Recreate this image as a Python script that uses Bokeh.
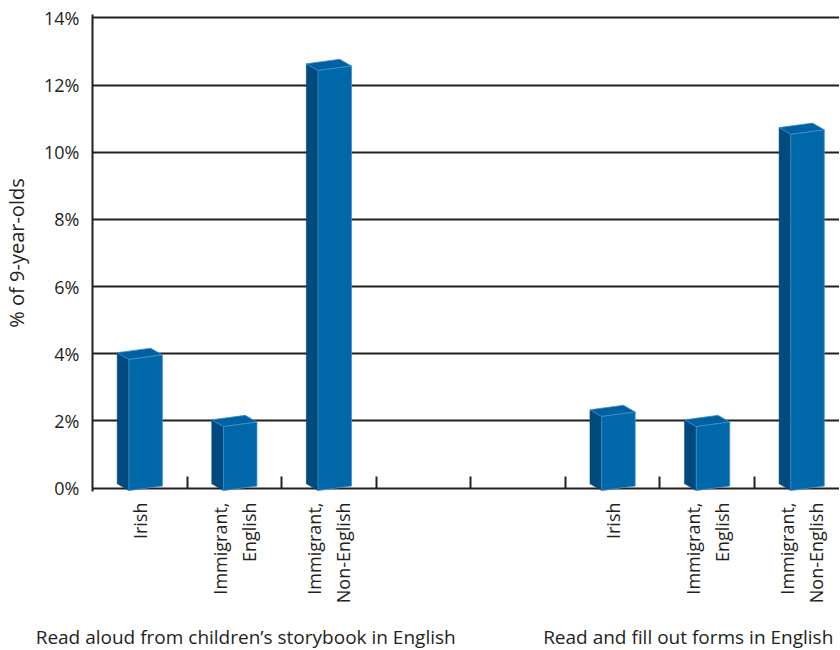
import math
from bokeh.plotting import figure
from bokeh.models import FixedTicker, Range1d, LinearAxis
from bokeh.embed import file_html
from bokeh.resources import INLINE

# ---- data ----
categories = ["Irish", "Immigrant,\nEnglish", "Immigrant,\nNon-English"]
group_names = ["Read aloud from children\u2019s storybook in English",
               "Read and fill out forms in English"]
storybook = [3.9, 1.9, 12.5]
forms = [2.2, 1.9, 10.6]
y_ticks = [0, 2, 4, 6, 8, 10, 12, 14]
y_tick_labels = ["0%", "2%", "4%", "6%", "8%", "10%", "12%", "14%"]
y_title = "% of 9-year-olds"

INK = "#231f20"
FRONT = "#0067a9"
SIDE = "#004a7d"
TOP = "#0061a2"
EDGE = "#3f8fcb"
FONT = "Open Sans"

p = figure(frame_width=747, frame_height=477, x_range=Range1d(0, 7.90), y_range=Range1d(-0.1, 14.1),
           output_backend="svg", toolbar_location=None,
           min_border_left=88, min_border_right=0, min_border_top=14, min_border_bottom=10)
p.outline_line_color = None
p.background_fill_color = "white"
p.xgrid.visible = False
p.ygrid.ticker = FixedTicker(ticks=y_ticks)
p.ygrid.grid_line_color = INK
p.ygrid.grid_line_width = 2

# ---- bars (3D look) ----
slot_centers = [0.5, 1.5, 2.5, 5.5, 6.5, 7.5]
values = storybook + forms
fw, dx, dy, sl = 0.354, 0.124, 0.2, 0.067
fx, fy, sx, sy, tx, ty = [], [], [], [], [], []
for c, v in zip(slot_centers, values):
    l = c - 0.115
    r = l + fw
    tl, tr = v - sl, v + sl
    bl, br = -0.005 - sl, -0.005 + sl
    fx.append([l, r, r, l]); fy.append([tl, tr, br, bl])
    sx.append([l, l - dx, l - dx, l]); sy.append([tl, tl + dy, bl + dy, bl])
    tx.append([l, r, r - dx, l - dx]); ty.append([tl, tr, tr + dy, tl + dy])
p.patches(sx, sy, fill_color=SIDE, line_color=SIDE, line_width=0.5)
p.patches(tx, ty, fill_color=TOP, line_color=EDGE, line_width=0.8)
p.patches(fx, fy, fill_color=FRONT, line_color=EDGE, line_width=0.8)

# ---- y axis ----
ya = p.yaxis[0]
ya.ticker = FixedTicker(ticks=y_ticks)
ya.major_label_overrides = {t: s for t, s in zip(y_ticks, y_tick_labels)}
ya.major_tick_in = 0
ya.major_tick_out = 0
ya.minor_tick_in = 0
ya.minor_tick_out = 0
ya.axis_line_color = INK
ya.axis_line_width = 2
ya.major_label_text_font = FONT
ya.major_label_text_font_size = "18px"
ya.major_label_text_color = INK
ya.major_label_standoff = 13
ya.axis_label = y_title
ya.axis_label_text_font = FONT
ya.axis_label_text_font_size = "20px"
ya.axis_label_text_font_style = "normal"
ya.axis_label_text_color = INK
ya.axis_label_standoff = 11

# ---- x axis (categories) ----
xa = p.xaxis[0]
xa.ticker = FixedTicker(ticks=slot_centers, minor_ticks=[1, 2, 3, 4, 5, 6, 7])
xa.major_label_overrides = {t: s for t, s in zip(slot_centers, categories + categories)}
xa.major_tick_in = 0
xa.major_tick_out = 0
xa.minor_tick_in = 15
xa.minor_tick_out = -3
xa.minor_tick_line_color = INK
xa.minor_tick_line_width = 2
xa.axis_line_color = None
xa.major_label_orientation = math.pi / 2
xa.major_label_text_font = FONT
xa.major_label_text_font_size = "18px"
xa.major_label_text_color = INK
xa.major_label_standoff = 11

# ---- x axis (group names) ----
group_x = [1.62, 6.30]
ga = LinearAxis(ticker=FixedTicker(ticks=group_x, minor_ticks=[]))
ga.major_label_overrides = {t: s for t, s in zip(group_x, group_names)}
ga.major_tick_in = 0
ga.major_tick_out = 0
ga.minor_tick_in = 0
ga.minor_tick_out = 0
ga.axis_line_color = None
ga.major_label_text_font = FONT
ga.major_label_text_font_size = "19px"
ga.major_label_text_color = INK
ga.major_label_standoff = 17
p.add_layout(ga, "below")

open("out.html", "w").write(file_html(p, INLINE))
